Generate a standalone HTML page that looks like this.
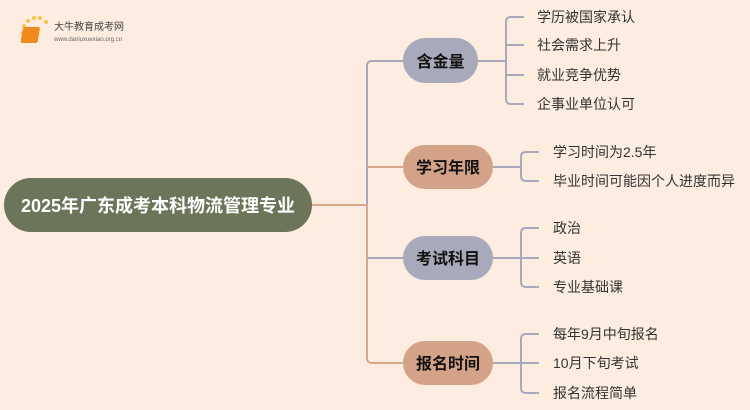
<!DOCTYPE html>
<html><head><meta charset="utf-8"><style>
body{margin:0;width:750px;height:410px;background:#fdede1;overflow:hidden}
svg{display:block}
text{font-family:"Liberation Sans","Noto Sans CJK SC",sans-serif}
</style></head><body>
<svg width="750" height="410" viewBox="0 0 750 410">
<rect width="750" height="410" fill="#fdede1"/>
<!-- logo -->
<g>
<circle cx="24" cy="26" r="2" fill="#f7c34a"/><circle cx="28" cy="21" r="2" fill="#f7c34a"/><circle cx="34" cy="18" r="2" fill="#f7c34a"/><circle cx="40" cy="18" r="2" fill="#f7c34a"/><circle cx="46" cy="22" r="2" fill="#f7c34a"/><circle cx="22" cy="33" r="1.5" fill="#f7c34a"/>
<rect x="28" y="27" width="17" height="16" rx="2" fill="#ef8a1c" transform="skewX(-10)"/>
<text x="54" y="30" font-size="10" fill="#444">大牛教育成考网</text>
<text x="54" y="41" font-size="6" fill="#666">www.daniuxuexiao.org.cn</text>
</g>
<g fill="none" stroke-width="2">
<path d="M312 205H367" stroke="#dba78b"/>
<path d="M403 61H372Q367 61 367 66V205" stroke="#a9a9bc"/>
<path d="M367 205V358Q367 363 372 363H403" stroke="#dba78b"/>
<path d="M367 167H403" stroke="#dba78b"/>
<path d="M367 258H403" stroke="#a9a9bc"/>
<path d="M478 61H506 M524 17H511Q506 17 506 22V99Q506 104 511 104H524 M506 45H524 M506 75H524" stroke="#a9a9bc"/>
<path d="M493 167H521 M539 152H526Q521 152 521 157V176Q521 181 526 181H539" stroke="#a9a9bc"/>
<path d="M493 258H521 M539 228H526Q521 228 521 233V282Q521 287 526 287H539 M521 258H539" stroke="#a9a9bc"/>
<path d="M493 363H521 M539 334H526Q521 334 521 339V388Q521 393 526 393H539 M521 363H539" stroke="#a9a9bc"/>
</g>
<rect x="4" y="178" width="308" height="54" rx="27" fill="#6b7559"/>
<text x="158" y="212" font-size="18" font-weight="bold" fill="#fff" text-anchor="middle">2025年广东成考本科物流管理专业</text>
<rect x="403" y="38" width="75" height="45" rx="22.5" fill="#a9a9bc"/>
<text x="440.5" y="67" font-size="16" font-weight="bold" fill="#111" text-anchor="middle">含金量</text>
<rect x="403" y="145" width="90" height="44" rx="22" fill="#d4a387"/>
<text x="448" y="173" font-size="16" font-weight="bold" fill="#111" text-anchor="middle">学习年限</text>
<rect x="403" y="236" width="90" height="44" rx="22" fill="#a9a9bc"/>
<text x="448" y="264" font-size="16" font-weight="bold" fill="#111" text-anchor="middle">考试科目</text>
<rect x="403" y="341" width="90" height="44" rx="22" fill="#d4a387"/>
<text x="448" y="369" font-size="16" font-weight="bold" fill="#111" text-anchor="middle">报名时间</text>
<g font-size="14" fill="#333">
<text x="537" y="22">学历被国家承认</text>
<text x="537" y="50">社会需求上升</text>
<text x="537" y="80">就业竞争优势</text>
<text x="537" y="109">企事业单位认可</text>
<text x="553" y="157">学习时间为2.5年</text>
<text x="553" y="186">毕业时间可能因个人进度而异</text>
<text x="553" y="233">政治</text>
<text x="553" y="263">英语</text>
<text x="553" y="292">专业基础课</text>
<text x="553" y="339">每年9月中旬报名</text>
<text x="553" y="368">10月下旬考试</text>
<text x="553" y="398">报名流程简单</text>
</g>
</svg>
</body></html>
